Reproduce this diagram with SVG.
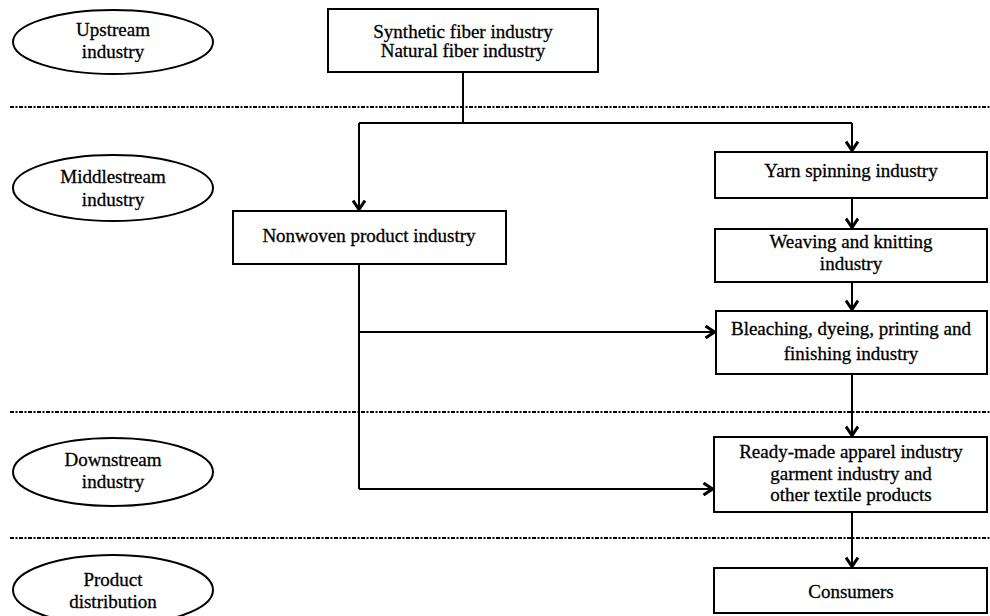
<svg xmlns="http://www.w3.org/2000/svg" width="990" height="616" viewBox="0 0 990 616">
<style>
.box{fill:#fff;stroke:#000;stroke-width:2}
.ell{fill:#fff;stroke:#000;stroke-width:2}
.t{font-family:"Liberation Serif","Times New Roman",serif;font-size:19px;fill:#000;stroke:#000;stroke-width:0.3;text-anchor:middle}
.sep{stroke:#000;stroke-width:2;stroke-dasharray:4,1.5,2,1.5}
.c{fill:none;stroke:#000;stroke-width:2}
</style>
<defs>
<marker id="arr" viewBox="0 0 14 14" refX="12.5" refY="7" markerWidth="14" markerHeight="14" markerUnits="userSpaceOnUse" orient="auto">
<path d="M3,1 L12,7 L3,13" fill="none" stroke="#000" stroke-width="3"/>
</marker>
</defs>
<rect width="990" height="616" fill="#fff"/>
<g id="separators">
<line class="sep" x1="10" y1="107" x2="990" y2="107"/>
<line class="sep" x1="10" y1="412" x2="990" y2="412"/>
<line class="sep" x1="10" y1="538" x2="990" y2="538"/>
</g>
<g id="connectors">
<path class="c" d="M463,72 V123"/>
<path class="c" d="M359,123 H852"/>
<path class="c" d="M359,123 V210" marker-end="url(#arr)"/>
<path class="c" d="M852,123 V151" marker-end="url(#arr)"/>
<path class="c" d="M852,198 V228" marker-end="url(#arr)"/>
<path class="c" d="M852,282 V310" marker-end="url(#arr)"/>
<path class="c" d="M359,264 V489"/>
<path class="c" d="M359,332 H715" marker-end="url(#arr)"/>
<path class="c" d="M359,489 H713" marker-end="url(#arr)"/>
<path class="c" d="M852,374 V436" marker-end="url(#arr)"/>
<path class="c" d="M852,512 V567" marker-end="url(#arr)"/>
</g>
<g id="upstream-label">
<ellipse class="ell" cx="113" cy="42" rx="100" ry="32"/>
<text class="t" x="113" y="36">Upstream</text>
<text class="t" x="113" y="58">industry</text>
</g>
<g id="middlestream-label">
<ellipse class="ell" cx="113" cy="188" rx="100" ry="33"/>
<text class="t" x="113" y="183">Middlestream</text>
<text class="t" x="113" y="206">industry</text>
</g>
<g id="downstream-label">
<ellipse class="ell" cx="113" cy="472" rx="100" ry="34"/>
<text class="t" x="113" y="466">Downstream</text>
<text class="t" x="113" y="488">industry</text>
</g>
<g id="distribution-label">
<ellipse class="ell" cx="113" cy="590" rx="100" ry="35"/>
<text class="t" x="113" y="586">Product</text>
<text class="t" x="113" y="608">distribution</text>
</g>
<g id="fiber">
<rect class="box" x="328" y="9" width="270" height="63"/>
<text class="t" x="463" y="38">Synthetic fiber industry</text>
<text class="t" x="463" y="57">Natural fiber industry</text>
</g>
<g id="nonwoven">
<rect class="box" x="233" y="211" width="273" height="53"/>
<text class="t" x="369" y="242">Nonwoven product industry</text>
</g>
<g id="yarn">
<rect class="box" x="715" y="152" width="272" height="46"/>
<text class="t" x="851" y="177">Yarn spinning industry</text>
</g>
<g id="weaving">
<rect class="box" x="715" y="229" width="272" height="53"/>
<text class="t" x="851" y="248">Weaving and knitting</text>
<text class="t" x="851" y="270">industry</text>
</g>
<g id="bleaching">
<rect class="box" x="716" y="311" width="271" height="63"/>
<text class="t" x="851" y="335">Bleaching, dyeing, printing and</text>
<text class="t" x="851" y="360">finishing industry</text>
</g>
<g id="apparel">
<rect class="box" x="714" y="437" width="273" height="75"/>
<text class="t" x="851" y="458">Ready-made apparel industry</text>
<text class="t" x="851" y="480">garment industry and</text>
<text class="t" x="851" y="501">other textile products</text>
</g>
<g id="consumers">
<rect class="box" x="714" y="568" width="273" height="45"/>
<text class="t" x="851" y="598">Consumers</text>
</g>
</svg>
